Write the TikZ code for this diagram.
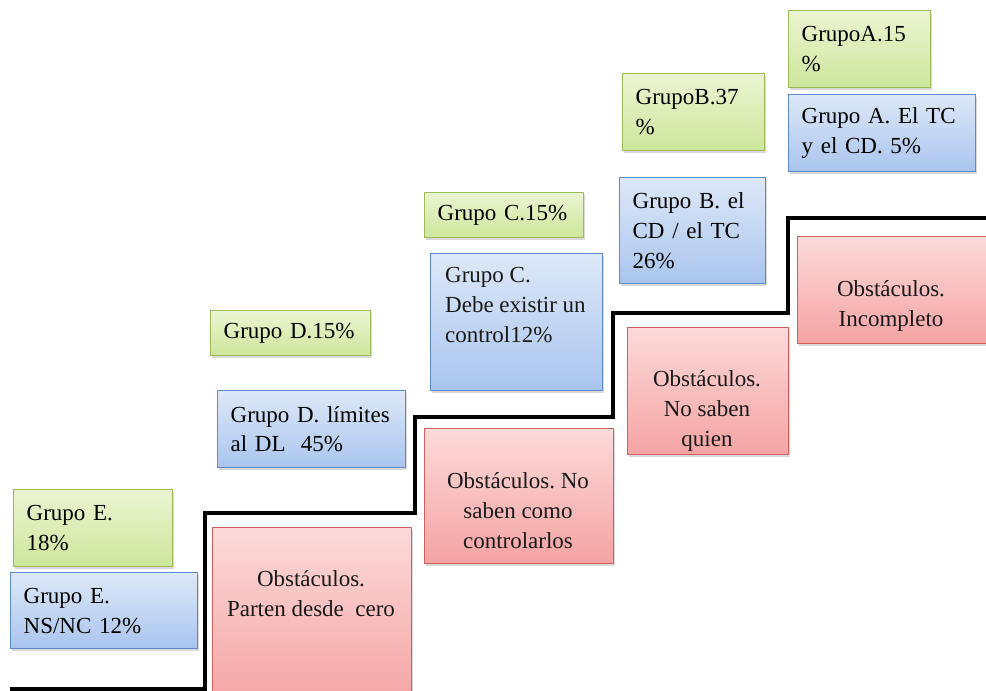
\documentclass[tikz,border=0pt]{standalone}
\usepackage{fontspec}
\setmainfont{Liberation Serif}
\usepackage{tikz}
\usetikzlibrary{positioning,shadows}
\definecolor{GrTop}{HTML}{EBF5D2}
\definecolor{GrBot}{HTML}{CDE69B}
\definecolor{GrLine}{HTML}{9BBB59}
\definecolor{BlTop}{HTML}{DDE8F8}
\definecolor{BlBot}{HTML}{A9C5EE}
\definecolor{BlLine}{HTML}{5B8BCB}
\definecolor{RdTop}{HTML}{FCDADA}
\definecolor{RdBot}{HTML}{F5A3A3}
\definecolor{RdLine}{HTML}{D0605D}
\frenchspacing

\begin{document}
\begin{tikzpicture}[x=1pt, y=-1pt]
					\tikzset{
						box/.style={line width=1.3pt, anchor=north west, inner xsep=13pt, inner ysep=0pt,
							align=left, font=\fontsize{23}{30}\selectfont,
							drop shadow={opacity=0.3, shadow xshift=1.5pt, shadow yshift=-2pt}},
						g/.style={box, draw=GrLine, top color=GrTop, bottom color=GrBot},
						b/.style={box, draw=BlLine, top color=BlTop, bottom color=BlBot},
						r/.style={box, draw=RdLine, top color=RdTop, bottom color=RdBot},
						t/.style={inner sep=0pt, text=black!90, font=\fontsize{23}{30}\selectfont},
						stair/.style={draw=black, line width=3.6pt}
					}
					\useasboundingbox (0,0) rectangle (986,691);

					\draw[stair] (10,689) -- (205,689) -- (205,513) -- (415,513) -- (415,417)
						-- (613,417) -- (613,313) -- (788,313) -- (788,218) -- (992,218);

					\node[g, text width=133pt, minimum height=77pt] (gE) at (13,489) {Grupo E.\\18\%};
					\node[b, text width=161pt, minimum height=76pt] (bE) at (10,572) {Grupo E.\\NS/NC 12\%};
					\node[g, text width=134pt, minimum height=45pt] (gD) at (210,310) {Grupo D.15\%};
					\node[b, text width=162pt, minimum height=77pt] (bD) at (217,390) {Grupo D. límites\\al DL~ 45\%};
					\node[g, text width=133pt, minimum height=45pt] (gC) at (424,192) {Grupo C.15\%};
					\node[b, text width=146pt, minimum height=137pt] (bC) at (430,253) {};
					\node[t, anchor=west, align=left] (bCt) at (445,305) {Grupo C.\\Debe existir un\\control12\%};
					\node[g, text width=116pt, minimum height=77pt] (gB) at (622,73) {GrupoB.37\\\%};
					\node[b, text width=120pt, minimum height=106pt] (bB) at (619,177) {Grupo B. el\\CD / el TC\\26\%};
					\node[g, text width=116pt, minimum height=77pt] (gA) at (788,10) {GrupoA.15\\\%};
					\node[b, text width=161pt, minimum height=77pt] (bA) at (788,94) {Grupo A. El TC\\y el CD. 5\%};

					\node[r, text width=173pt, minimum height=180pt] (ob1) at (212,527) {};
					\node[t, align=center] (ob1t) at (311,594) {Obstáculos.\\Parten desde~ cero};
					\node[r, text width=163pt, minimum height=135pt] (ob2) at (424,428) {};
					\node[t, align=center] (ob2t) at (518,511) {Obstáculos. No\\saben como\\controlarlos};
					\node[r, text width=135pt, minimum height=127pt] (ob3) at (627,327) {};
					\node[t, align=center] (ob3t) at (707,411) {Obstáculos.\\No saben\\quien};
					\node[r, text width=174pt, minimum height=107pt] (ob4) at (797,236) {};
					\node[t, align=center] (ob4t) at (891,306) {Obstáculos.\\Incompleto};
				\end{tikzpicture}
\end{document}
